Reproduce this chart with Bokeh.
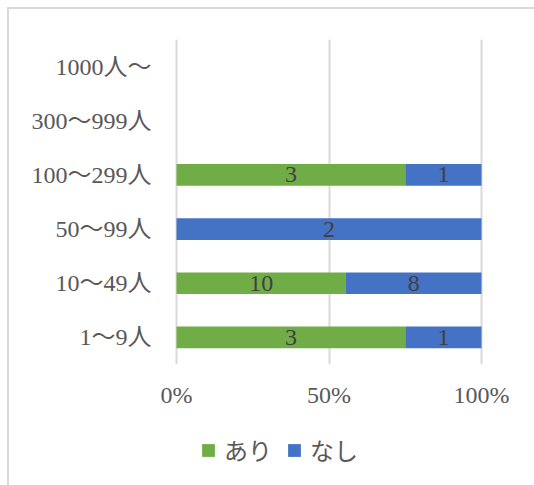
from bokeh.plotting import figure
from bokeh.layouts import column
from bokeh.models import (ColumnDataSource, FactorRange, Range1d, FixedTicker,
                          NumeralTickFormatter, Legend, LegendItem, InlineStyleSheet)
from bokeh.core.properties import value
from bokeh.embed import file_html
from bokeh.resources import INLINE

# Company size bands (bottom to top) and answer counts
categories = ["1～9人", "10～49人", "50～99人", "100～299人", "300～999人", "1000人～"]
ari = [3, 10, 0, 3, 0, 0]
nashi = [1, 8, 2, 1, 0, 0]
series_names = ["あり", "なし"]
colors = ["#70AD47", "#4472C4"]
x_ticks = [0, 0.5, 1]

FONT = "'Liberation Serif', 'Noto Sans CJK JP'"
TEXT_COLOR = "#595959"
LABEL_COLOR = "#404040"
GRID_COLOR = "#d9d9d9"

# 100% stacked shares
totals = [a + n for a, n in zip(ari, nashi)]
ari_pct = [a / t if t else 0.0 for a, t in zip(ari, totals)]
nashi_pct = [n / t if t else 0.0 for n, t in zip(nashi, totals)]

source = ColumnDataSource(dict(cat=categories, ari=ari_pct, nashi=nashi_pct))

pad = 2 / 305
p = figure(
    y_range=FactorRange(*categories),
    x_range=Range1d(-pad, 1 + pad),
    frame_width=309, frame_height=325,
    min_border_left=174, min_border_right=51,
    min_border_top=39, min_border_bottom=56,
    output_backend="svg", toolbar_location=None,
    background_fill_color="white", border_fill_color="white",
)
p.outline_line_color = None

renderers = p.hbar_stack(["ari", "nashi"], y="cat", height=0.4, color=colors,
                         line_color=None, source=source)

# value labels at the middle of each non-empty segment
lx, ly, lt = [], [], []
for cat, a, n, pa, pn in zip(categories, ari, nashi, ari_pct, nashi_pct):
    if a:
        lx.append(pa / 2); ly.append(cat); lt.append(str(a))
    if n:
        lx.append(pa + pn / 2); ly.append(cat); lt.append(str(n))
p.text(x=lx, y=ly, text=lt, text_align="center", text_baseline="middle",
       text_font=value(FONT), text_font_size="24px", text_color=LABEL_COLOR)

# axes
p.xaxis.ticker = FixedTicker(ticks=x_ticks)
p.xaxis.formatter = NumeralTickFormatter(format="0%")
for ax in (p.xaxis[0], p.yaxis[0]):
    ax.axis_line_color = None
    ax.major_tick_line_color = None
    ax.minor_tick_line_color = None
    ax.major_tick_out = 0
    ax.major_tick_in = 0
    ax.major_label_text_font = FONT
    ax.major_label_text_font_size = "24px"
    ax.major_label_text_color = TEXT_COLOR
p.xaxis.major_label_standoff = 17
p.yaxis.major_label_standoff = 23

p.ygrid.grid_line_color = None
p.xgrid.grid_line_color = GRID_COLOR
p.xgrid.grid_line_width = 2

# legend strip under the chart (its frame lines up with the chart frame)
lf = figure(width=534, height=65, min_border=0, output_backend="svg",
            toolbar_location=None, x_range=Range1d(0, 1), y_range=Range1d(0, 1),
            background_fill_color="white", border_fill_color="white")
lf.outline_line_color = None
lf.axis.visible = False
lf.grid.visible = False
# zero-size bars that only carry the legend swatch colours
keys = [lf.hbar(y=[0], left=[0], right=[0], height=0, color=c, line_color=None)
        for c in colors]

legend = Legend(
    items=[LegendItem(label=name, renderers=[r]) for name, r in zip(series_names, keys)],
    orientation="horizontal", location=(26, 18),
    glyph_width=16, glyph_height=16, label_standoff=8, spacing=14,
    padding=0, margin=0, border_line_color=None, background_fill_alpha=0,
    label_text_font=FONT, label_text_font_size="24px", label_text_color=TEXT_COLOR,
)
lf.add_layout(legend, "center")

layout = column(p, lf, spacing=0)

# chart-area frame along the top and left edges
layout.stylesheets = [InlineStyleSheet(css="""
:host::after {
  content: '';
  position: absolute;
  left: 7px; top: 7px;
  width: calc(100% - 7px); height: calc(100% - 7px);
  border-left: 2px solid #d9d9d9;
  border-top: 2px solid #d9d9d9;
  pointer-events: none;
}
""")]

open("out.html", "w").write(file_html(layout, INLINE))
